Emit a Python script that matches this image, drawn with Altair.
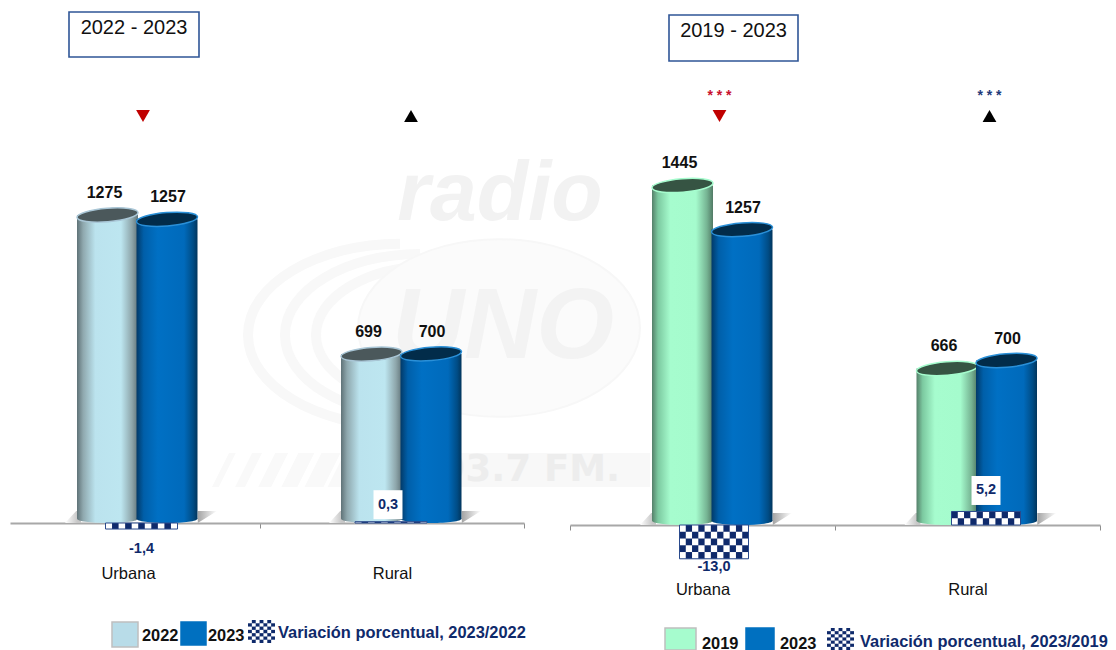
import altair as alt
import pandas as pd

areas = ["Urbana", "Rural"]
years_left = ["2022", "2023"]
years_right = ["2019", "2023"]
left_first = [1275, 699]
left_second = [1257, 700]
left_var = [-1.4, 0.3]
right_first = [1445, 666]
right_second = [1257, 700]
right_var = [-13.0, 5.2]
left_arrows = ["down", "up"]
right_arrows = ["down", "up"]
right_stars = ["***", "***"]

SANS = "Liberation Sans"
NAVY = "#0f2a6b"
H = 634


def grad(stops):
    return {"gradient": "linear", "x1": 0, "x2": 1, "y1": 0, "y2": 0,
            "stops": [{"offset": o, "color": c} for o, c in stops]}


LIGHT = dict(
    body=grad([(0, "#5f7277"), (.10, "#8fa8ae"), (.3, "#bbe3ee"), (.72, "#bde6f0"), (.9, "#8ea6ab"), (1, "#62757a")]),
    top="#4b585b", edge="#a9c6d6")
GREEN = dict(
    body=grad([(0, "#55806a"), (.10, "#7cc9a0"), (.3, "#a6fcce"), (.72, "#a5fbcd"), (.9, "#76b493"), (1, "#517a65")]),
    top="#365443", edge="#a6fcce")
BLUE = dict(
    body=grad([(0, "#023a68"), (.12, "#005fa9"), (.35, "#0070c4"), (.78, "#006abb"), (.93, "#004c85"), (1, "#02355c")]),
    top="#022c4a", edge="#2a90d8")
SHADOW = grad([(0, "#ffffff"), (.08, "#c8c8c8"), (.5, "#999999"), (.88, "#a8a8a8"), (1, "#ffffff")])

TOP_SHAPE = "M-1,0.08 A1,0.22 -4.6 1 1 1,-0.08 A1,0.22 -4.6 1 1 -1,0.08 Z"
BOTTOM_SHAPE = "M-1,-0.14 A1,0.14 0 1 0 1,-0.14 A1,0.14 0 1 0 -1,-0.14 Z"
SHADOW_SHAPE = "M-0.9,0 L-0.76,-0.15 L-0.7,-0.15 L-0.7,0 Z M0.76,0 L0.76,-0.15 L1,-0.15 Z"
ELLIPSE = "M-1,0 A1,0.63 0 1 1 1,0 A1,0.63 0 1 1 -1,0 Z"
LEFT_ARC = "M0,-0.6 A1,0.6 0 0 0 0,0.6"


def one(**kw):
    return pd.DataFrame([kw])


def hatch(start, count, rising):
    parts = []
    for i in range(count):
        w = 0.1 + 0.045 * (i if rising else count - 1 - i)
        a = start + i * 0.34
        parts.append(f"M{a:.3f},0.5 L{a + 0.25:.3f},0 L{a + 0.25 + w:.3f},0 L{a + w:.3f},0.5 Z")
    return " ".join(parts)


def panel(cfg):
    x0, catw = cfg["x0"], cfg["catw"]
    base = cfg["base"] - 8
    k, k2 = cfg["k"], cfg["k2"]
    xs = alt.Scale(domain=[cfg["dom0"], 2], nice=False, zero=False)
    ys = alt.Scale(domain=[-(H - base) / k, base / k], nice=False, zero=False)
    ys2 = alt.Scale(domain=[-(H - base) / k2, base / k2], nice=False, zero=False)
    X = lambda f: alt.X(f, type="quantitative", scale=xs, axis=None)
    Y = lambda f: alt.Y(f, type="quantitative", scale=ys, axis=None)
    V = lambda f: alt.Y(f, type="quantitative", scale=ys2, axis=None)
    layers = []
    centers = [0.5, 1.5]

    axis = alt.Axis(
        values=[0.5, 1, 1.5, 2] if x0 < 100 else [0, 0.5, 1, 1.5, 2],
        title=None, grid=False, offset=-(H - base), domainColor="#a8a8a8", domainWidth=2,
        tickColor="#8c8c8c", tickSize=5, tickWidth=1,
        tickOpacity={"condition": {"test": "datum.value % 1 === 0", "value": 1}, "value": 0},
        labelExpr="datum.value === 0.5 ? 'Urbana' : datum.value === 1.5 ? 'Rural' : ''",
        labelFont=SANS, labelFontSize=16.5, labelColor="#111111", labelPadding=cfg["lab_pad"],
        labelOverlap=False, labelFlush=False, labelBound=False)
    layers.append(alt.Chart(one(x=0.5)).mark_point(opacity=0).encode(
        x=alt.X("x:Q", scale=xs, axis=axis), y=alt.value(base)))

    sh = pd.DataFrame({"x": [c + d / catw for c, d in zip(centers, cfg["group_dx"])], "y": [0, 0]})
    layers.append(alt.Chart(sh).mark_point(filled=True, fill=SHADOW, shape=SHADOW_SHAPE, size=160 ** 2, opacity=1, strokeWidth=0)
                  .encode(x=X("x"), y=Y("y")))

    rows = []
    for style, vals, off, lab_dx in ((cfg["style"], cfg["a"], -29.5, -3), (BLUE, cfg["b"], 30, 1)):
        d = pd.DataFrame({
            "xc": [c + (g + off) / catw for c, g in zip(centers, cfg["group_dx"])],
            "x1": [c + (g + off - 30.5) / catw for c, g in zip(centers, cfg["group_dx"])],
            "x2": [c + (g + off + 30.5) / catw for c, g in zip(centers, cfg["group_dx"])],
            "v": vals, "g": [0, 0], "z": [4.2 / k, 4.2 / k], "t": [str(v) for v in vals]})
        layers.append(alt.Chart(d).mark_point(filled=True, fill=style["body"], shape=BOTTOM_SHAPE, size=61 ** 2, opacity=1, strokeWidth=0)
                      .encode(x=X("xc"), y=Y("g")))
        layers.append(alt.Chart(d).mark_rect(fill=style["body"]).encode(
            x=X("x1"), x2=alt.X2("x2"), y=Y("v"), y2=alt.Y2("z")))
        layers.append(alt.Chart(d).mark_point(filled=True, fill=style["top"], stroke=style["edge"], strokeWidth=1.5,
                                              shape=TOP_SHAPE, size=61 ** 2, opacity=1)
                      .encode(x=X("xc"), y=Y("v")))
        rows.append((d, lab_dx))
    for d, lab_dx in rows:
        layers.append(alt.Chart(d).mark_text(font=SANS, fontWeight="bold", fontSize=16, color="#111111",
                                             dx=lab_dx, dy=-22, baseline="middle")
                      .encode(x=X("xc"), y=Y("v"), text="t:N"))

    cell = 6.3
    vb, cells, labs = [], [], []
    for i, v in enumerate(cfg["var"]):
        xc = centers[i] + cfg["var_dx"][i] / catw
        hw = cfg["var_w"] / 2 / catw
        vb.append({"x1": xc - hw, "x2": xc + hw, "v": v, "z": 0})
        ncol = int(round(cfg["var_w"] / cell))
        step_x = 2 * hw / ncol
        step_y = cell / k2
        nrow = max(1, int(round(abs(v) / step_y)))
        step_y = abs(v) / nrow
        sign = 1 if v > 0 else -1
        for r in range(nrow):
            for c in range(ncol):
                if (r + c) % 2 == 0:
                    cells.append({"x1": xc - hw + c * step_x, "x2": xc - hw + (c + 1) * step_x,
                                  "y1": sign * r * step_y, "y2": sign * (r + 1) * step_y})
        labs.append({"x": xc + cfg["lab_dx"][i] / catw, "v": v + cfg["lab_off"][i] / k2,
                     "t": f"{v:.1f}".replace(".", ",")})
    vb = pd.DataFrame(vb)
    labs = pd.DataFrame(labs)
    boxes = labs[labs["v"] > 1]
    layers.append(alt.Chart(vb).mark_rect(fill=NAVY).encode(x=X("x1"), x2=alt.X2("x2"), y=V("v"), y2=alt.Y2("z")))
    layers.append(alt.Chart(pd.DataFrame(cells)).mark_rect(fill="#ffffff").encode(
        x=X("x1"), x2=alt.X2("x2"), y=V("y1"), y2=alt.Y2("y2")))
    layers.append(alt.Chart(vb).mark_rect(fill="transparent", stroke="#2a4a8c", strokeWidth=1).encode(
        x=X("x1"), x2=alt.X2("x2"), y=V("v"), y2=alt.Y2("z")))
    layers.append(alt.Chart(boxes).mark_point(shape="square", filled=True, fill="#ffffff", opacity=1, size=840, strokeWidth=0)
                  .encode(x=X("x"), y=V("v")))
    layers.append(alt.Chart(labs).mark_text(font=SANS, fontWeight="bold", fontSize=14.5, color=NAVY, baseline="middle")
                  .encode(x=X("x"), y=V("v"), text="t:N"))

    ax = [c + d / catw for c, d in zip(centers, cfg["arrow_dx"])]
    for px, direction in zip(ax, cfg["arrows"]):
        layers.append(alt.Chart(one(x=px)).mark_point(
            filled=True, opacity=1, strokeWidth=0, size=190,
            shape="triangle-down" if direction == "down" else "triangle-up",
            fill="#c00000" if direction == "down" else "#000000")
            .encode(x=X("x"), y=alt.value(116 - 8)))
    for px, s, col in zip(ax, cfg["stars"], ["#c8102e", "#1f3a7a"]):
        if s:
            layers.append(alt.Chart(one(x=px, t=" ".join(s))).mark_text(
                font=SANS, fontWeight="bold", fontSize=14, color=col, dx=0, baseline="middle")
                .encode(x=X("x"), y=alt.value(96 - 8), text="t:N"))

    bx1, bx2, by1, by2 = cfg["box"]
    layers.append(alt.Chart(one(a=1)).mark_rect(fill="#ffffff", stroke="#2f5597", strokeWidth=1.6).encode(
        x=alt.value(bx1 - x0), x2=alt.value(bx2 - x0), y=alt.value(by1 - 8), y2=alt.value(by2 - 8)))
    layers.append(alt.Chart(one(t=cfg["title"])).mark_text(font=SANS, fontSize=20, color="#111111", baseline="middle")
                  .encode(x=alt.value((bx1 + bx2) / 2 - x0), y=alt.value(by1 + 16 - 8), text="t:N"))

    for fill, stroke, a, b, c, d in cfg["swatches"]:
        layers.append(alt.Chart(one(a=1)).mark_rect(fill=fill, stroke=stroke, strokeWidth=1.5).encode(
            x=alt.value(a - x0), x2=alt.value(b - x0), y=alt.value(c - 8), y2=alt.value(d - 8)))
    a, b, c, d = cfg["check"]
    layers.append(alt.Chart(one(a=1)).mark_rect(fill=NAVY).encode(
        x=alt.value(a - x0), x2=alt.value(b - x0), y=alt.value(c - 8), y2=alt.value(d - 8)))
    sw = []
    n = 7
    stepx, stepy = (b - a) / n, (d - c) / n
    for r in range(n):
        for q in range(n):
            if (r + q) % 2 == 0:
                sw.append({"x1": a - x0 + q * stepx, "x2": a - x0 + (q + 1) * stepx,
                           "y1": c - 8 + r * stepy, "y2": c - 8 + (r + 1) * stepy})
    layers.append(alt.Chart(pd.DataFrame(sw)).mark_rect(fill="#ffffff").encode(
        x=alt.X("x1:Q", scale=None, axis=None), x2="x2:Q",
        y=alt.Y("y1:Q", scale=None, axis=None), y2="y2:Q"))
    for t, px, py, col in cfg["legend"]:
        layers.append(alt.Chart(one(t=t)).mark_text(font=SANS, fontWeight="bold", fontSize=16.4, color=col,
                                                    align="left", baseline="middle")
                      .encode(x=alt.value(px - x0), y=alt.value(py - 8), text="t:N"))

    return alt.layer(*(cfg.get("under", []) + layers)).resolve_scale(y="independent").resolve_axis(
        x="independent").properties(width=cfg["width"], height=H)


# faint station logo behind the first panel
X0 = 10
under = []
for px, py, rx in ((400, 335, 152), (420, 335, 135), (430, 335, 114)):
    under.append(alt.Chart(one(a=1)).mark_point(shape=LEFT_ARC, size=(2 * rx) ** 2, filled=False, stroke="#f8f8f8",
                                                strokeWidth=10, opacity=1)
                 .encode(x=alt.value(px - X0), y=alt.value(py - 8)))
under.append(alt.Chart(one(a=1)).mark_point(shape=ELLIPSE, size=282 ** 2, filled=True, fill="#fbfbfb", stroke="#f7f7f7",
                                            strokeWidth=2, opacity=1)
             .encode(x=alt.value(499 - X0), y=alt.value(328 - 8)))
under.append(alt.Chart(one(a=1)).mark_rect(fill="#f8f8f8").encode(
    x=alt.value(360 - X0), x2=alt.value(650 - X0), y=alt.value(453 - 8), y2=alt.value(487 - 8)))
under.append(alt.Chart(one(a=1)).mark_point(shape=hatch(-1, 6, True), size=136 ** 2, filled=True, fill="#f9f9f9",
                                            opacity=1, strokeWidth=0)
             .encode(x=alt.value(280 - X0), y=alt.value(453 - 8)))
for t, px, py, size, style, font, col in (("radio", 500, 195, 84, "italic", SANS, "#f2f2f2"),
                                          ("UNO", 503, 328, 100, "italic", SANS, "#f3f3f3"),
                                          ("93.7 FM.", 530, 470, 37, "normal", "DejaVu Sans", "#ededed")):
    under.append(alt.Chart(one(t=t)).mark_text(font=font, fontWeight="bold", fontStyle=style, fontSize=size,
                                               color=col, baseline="middle")
                 .encode(x=alt.value(px - X0), y=alt.value(py - 8), text="t:N"))

left = panel(dict(
    x0=10, tick1=260, catw=264, dom0=(10 - 260) / 264 + 1, width=514, base=523, k=0.2416, k2=4.3,
    lab_pad=37, style=LIGHT, a=left_first, b=left_second, var=left_var,
    group_dx=[9, 9], var_dx=[13.5, -1], var_w=72, lab_dx=[0, -3], lab_off=[-20, 17],
    arrow_dx=[15, 19], arrows=left_arrows, stars=["", ""],
    box=(69, 199, 12, 57), title="2022 - 2023",
    swatches=[("#b8dce8", "#bfbfbf", 112, 138, 622, 647), ("#0070c0", "#0070c0", 181, 206, 622, 645)],
    check=(248, 275, 620, 643),
    legend=[(years_left[0], 142, 636, "#111111"), (years_left[1], 208, 636, "#111111"),
            ("Variación porcentual, 2023/2022", 278, 633, NAVY)],
    under=under))

right = panel(dict(
    x0=570, tick1=836, catw=265, dom0=0, width=530, base=525, k=0.235, k2=2.6,
    lab_pad=51, style=GREEN, a=right_first, b=right_second, var=right_var,
    group_dx=[9.5, 9], var_dx=[11.5, 18.5], var_w=69, lab_dx=[0, 0], lab_off=[-8, 21],
    arrow_dx=[17, 22], arrows=right_arrows, stars=right_stars,
    box=(669, 798, 15, 61), title="2019 - 2023",
    swatches=[("#a6fcce", "#bfbfbf", 665, 696, 628, 650), ("#0070c0", "#0070c0", 746, 774, 628, 650)],
    check=(827, 854, 628, 650),
    legend=[(years_right[0], 702, 644, "#111111"), (years_right[1], 780, 644, "#111111"),
            ("Variación porcentual, 2023/2019", 860, 642, NAVY)]))

chart = alt.hconcat(left, right, spacing=46, bounds="flush",
                    padding={"left": 2, "top": 0, "right": 0, "bottom": 0}).configure_view(stroke=None)

chart.save("out.html", embed_options={"renderer": "svg", "actions": False})
